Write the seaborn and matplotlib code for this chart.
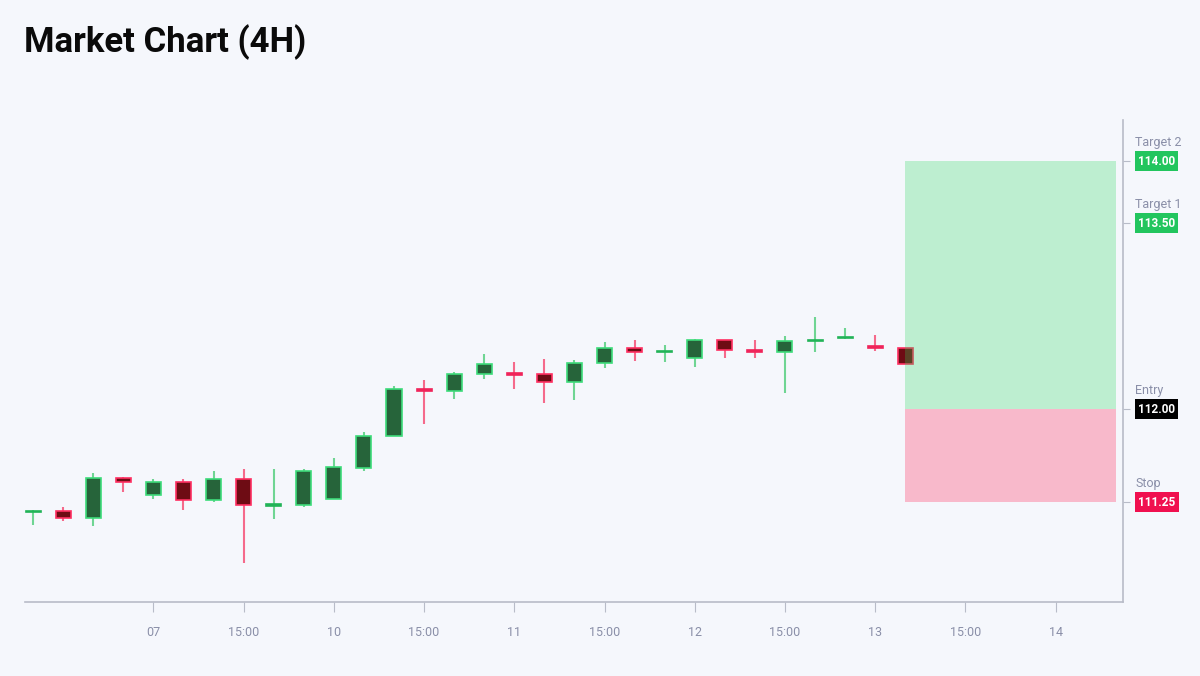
import matplotlib
matplotlib.use("Agg")
import matplotlib.pyplot as plt
import seaborn as sns
import numpy as np
import pandas as pd

# ---------------- data ----------------
opens  = [111.170, 111.177, 111.120, 111.444, 111.306, 111.410, 111.266, 111.435, 111.222, 111.226,
          111.274, 111.524, 111.782, 112.156, 112.145, 112.282, 112.285, 112.282, 112.218, 112.371,
          112.492, 112.462, 112.411, 112.556, 112.471, 112.460, 112.548, 112.572, 112.505, 112.492]
highs  = [111.185, 111.210, 111.484, 111.450, 111.435, 111.435, 111.500, 111.516, 111.516, 111.516,
          111.605, 111.815, 112.185, 112.234, 112.298, 112.444, 112.379, 112.403, 112.395, 112.540,
          112.556, 112.516, 112.565, 112.556, 112.556, 112.589, 112.742, 112.653, 112.597, 112.492]
lows   = [111.065, 111.097, 111.056, 111.330, 111.274, 111.185, 111.250, 110.758, 111.113, 111.210,
          111.274, 111.500, 111.782, 111.879, 112.080, 112.242, 112.161, 112.048, 112.073, 112.331,
          112.387, 112.379, 112.339, 112.411, 112.411, 112.129, 112.460, 112.565, 112.468, 112.363]
closes = [111.175, 111.120, 111.444, 111.410, 111.410, 111.266, 111.435, 111.226, 111.228, 111.500,
          111.532, 111.782, 112.161, 112.150, 112.282, 112.363, 112.279, 112.218, 112.371, 112.492,
          112.460, 112.468, 112.556, 112.476, 112.465, 112.548, 112.558, 112.580, 112.498, 112.363]

tick_positions = [4, 7, 10, 13, 16, 19, 22, 25, 28, 31, 34]
tick_labels = ["07", "15:00", "10", "15:00", "11", "15:00", "12", "15:00", "13", "15:00", "14"]

level_names  = ["Target 2", "Target 1", "Entry", "Stop"]
level_values = [114.00, 113.50, 112.00, 111.25]
level_colors = ["#22c55e", "#22c55e", "#000000", "#f0104f"]

zone_start, zone_end = 29, 36
entry, target2, stop = 112.00, 114.00, 111.25

df = pd.DataFrame({"i": np.arange(len(opens)), "open": opens, "high": highs,
                   "low": lows, "close": closes})
df["up"] = df["close"] >= df["open"]

# ---------------- style ----------------
BG = "#f5f7fc"
sns.set_theme(style="white", rc={"axes.facecolor": BG, "figure.facecolor": BG})
plt.rcParams["font.family"] = ["Roboto", "DejaVu Sans"]

fig = plt.figure(figsize=(12, 6.76), dpi=100)
ax = fig.add_axes([25 / 1200, 1 - 602 / 676, (1123 - 25) / 1200, (602 - 120) / 676])

G_FACE, G_EDGE, G_WICK = "#26643a", "#3ddc7a", "#6fd593"
R_FACE, R_EDGE, R_WICK = "#6e0c14", "#ff2f62", "#f56a8b"

for _, r in df.iterrows():
    up = r["up"]
    wick = G_WICK if up else R_WICK
    face = G_FACE if up else R_FACE
    edge = G_EDGE if up else R_EDGE
    ax.vlines(r["i"], r["low"], r["high"], color=wick, lw=1.5, zorder=2)
    lo = min(r["open"], r["close"])
    h = abs(r["close"] - r["open"])
    if h < 0.02:
        face = "#21b357" if up else "#f0245a"
        edge = face
        h = 0.012
        lo = (r["open"] + r["close"]) / 2 - h / 2
    ax.bar(r["i"], h, bottom=lo, width=0.5, color=face, edgecolor=edge,
           linewidth=1.2, zorder=3)

# trade zones
ax.add_patch(plt.Rectangle((zone_start, entry), zone_end - zone_start, target2 - entry,
                           facecolor="#28d85a", alpha=0.27, edgecolor="none", zorder=4))
ax.add_patch(plt.Rectangle((zone_start, stop), zone_end - zone_start, entry - stop,
                           facecolor="#ff2a5a", alpha=0.30, edgecolor="none", zorder=4))

ax.set_xlim(-0.27, 36.24)
ax.set_ylim(110.444, 114.331)

for s in ["left", "top"]:
    ax.spines[s].set_visible(False)
for s in ["bottom", "right"]:
    ax.spines[s].set_color("#b8bcc8")
    ax.spines[s].set_linewidth(1.2)

ax.set_xticks(tick_positions)
ax.set_xticklabels(tick_labels)
ax.tick_params(axis="x", direction="out", length=7.5, width=0.8, color="#b8bcc8",
               labelcolor="#8a8fa8", labelsize=9, pad=10, bottom=True)

ax.yaxis.tick_right()
ax.set_yticks(level_values)
ax.set_yticklabels([""] * len(level_values))
ax.tick_params(axis="y", direction="out", length=5, width=0.8, color="#b8bcc8", right=True, left=False)

for name, val, col in zip(level_names, level_values, level_colors):
    ax.annotate(f"{val:.2f}", xy=(1, val), xycoords=("axes fraction", "data"),
                xytext=(15, 0), textcoords="offset pixels", ha="left", va="center",
                fontsize=8.5, fontweight="bold", color="white", annotation_clip=False,
                bbox=dict(boxstyle="square,pad=0.28", fc=col, ec="none"))
    ax.annotate(name, xy=(1, val), xycoords=("axes fraction", "data"),
                xytext=(12, 19), textcoords="offset pixels", ha="left", va="center",
                fontsize=9, color="#8a8fa8", annotation_clip=False)

ax.set_xlabel("")
ax.set_ylabel("")

fig.text(24 / 1200, 1 - 42 / 676, "Market Chart (4H)", fontsize=25, fontweight="bold",
         color="#0a0a0a", ha="left", va="center")

fig.savefig("out.png", dpi=100, facecolor=BG)
